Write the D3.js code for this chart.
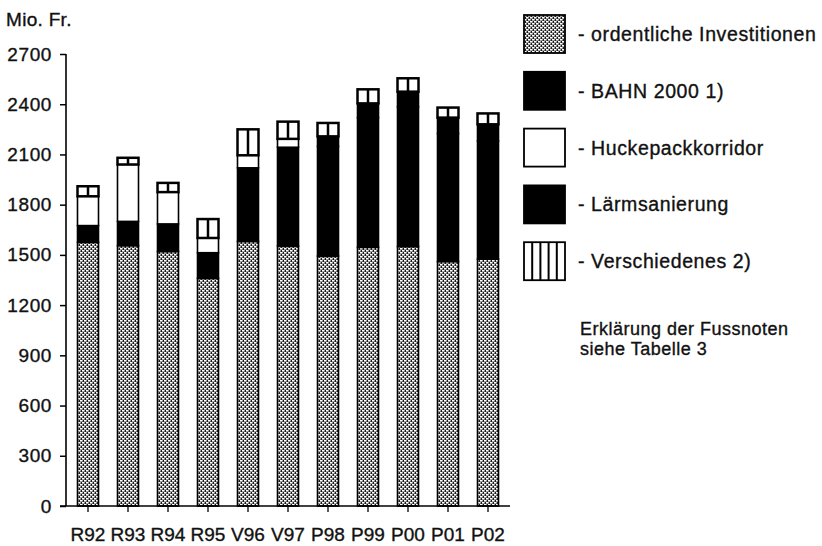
<!DOCTYPE html>
<html>
<head>
<meta charset="utf-8">
<script src="https://cdn.jsdelivr.net/npm/d3@7"></script>
<style>
  body { margin: 0; background: #fff; }
  svg { display: block; font-family: "Liberation Sans", Arial, sans-serif; }
  .lbl { fill: #111; stroke: #111; stroke-width: 0.35px; }
</style>
</head>
<body>
<div id="chart"></div>
<script>
// values (Mio. Fr.)
const categories = ["R92", "R93", "R94", "R95", "V96", "V97", "P98", "P99", "P00", "P01", "P02"];
const ordentliche = [1575, 1555, 1520, 1360, 1580, 1553, 1493, 1545, 1550, 1460, 1475];
const bahn2000    = [100, 145, 165, 153, 440, 590, 655, 775, 835, 765, 705];
const huckepack   = [175, 340, 190, 88, 75, 50, 0, 0, 0, 0, 0];
const laerm       = [0, 0, 0, 0, 0, 0, 60, 85, 90, 95, 100];
const verschiedenes = [60, 40, 55, 113, 155, 103, 80, 84, 80, 60, 65];
const yTicks = [0, 300, 600, 900, 1200, 1500, 1800, 2100, 2400, 2700];
const legendLabels = ["- ordentliche Investitionen", "- BAHN 2000 1)", "- Huckepackkorridor", "- Lärmsanierung", "- Verschiedenes 2)"];

const keys = ["ord", "bahn", "hucke", "laerm", "versch"];
const table = categories.map((c, i) => ({
  cat: c, ord: ordentliche[i], bahn: bahn2000[i], hucke: huckepack[i],
  laerm: laerm[i], versch: verschiedenes[i]
}));

const width = 822, height = 546;
const svg = d3.select("#chart").append("svg")
  .attr("width", width).attr("height", height);

// stippled pattern for the regular investments
const defs = svg.append("defs");
const pat = defs.append("pattern")
  .attr("id", "stipple")
  .attr("patternUnits", "userSpaceOnUse")
  .attr("width", 4).attr("height", 4);
pat.append("rect").attr("width", 4).attr("height", 4).attr("fill", "#1a1a1a");
pat.append("rect").attr("x", 0).attr("y", 0).attr("width", 2.6).attr("height", 1.6).attr("fill", "#fff");
pat.append("rect").attr("x", 2).attr("y", 2).attr("width", 2.6).attr("height", 1.6).attr("fill", "#fff");
pat.append("rect").attr("x", -2).attr("y", 2).attr("width", 2.6).attr("height", 1.6).attr("fill", "#fff");

const fills = { ord: "url(#stipple)", bahn: "#000", hucke: "#fff", laerm: "#000", versch: "#fff" };

const x = d3.scaleBand()
  .domain(categories)
  .range([68, 508])
  .paddingInner(0.475)
  .paddingOuter(0.2375);

const y = d3.scaleLinear()
  .domain([0, 2700])
  .range([506, 54]);

const stacked = d3.stack().keys(keys)(table);

// bars
const layers = svg.selectAll(".layer")
  .data(stacked)
  .enter().append("g")
  .attr("class", "layer");

layers.selectAll("rect")
  .data(d => d.map(v => ({ key: d.key, v: v })))
  .enter().append("rect")
  .filter(d => d.v[1] - d.v[0] > 0)
  .attr("x", d => x(d.v.data.cat))
  .attr("y", d => y(d.v[1]))
  .attr("width", x.bandwidth())
  .attr("height", d => y(d.v[0]) - y(d.v[1]))
  .attr("fill", d => fills[d.key])
  .attr("stroke", "#000")
  .attr("stroke-width", d => d.key === "versch" ? 2.5 : 1.6);

// vertical stripes of the "Verschiedenes" segments
const versLayer = stacked.find(s => s.key === "versch");
svg.selectAll(".vline")
  .data(versLayer)
  .enter().append("line")
  .attr("class", "vline")
  .attr("x1", d => x(d.data.cat) + x.bandwidth() / 2)
  .attr("x2", d => x(d.data.cat) + x.bandwidth() / 2)
  .attr("y1", d => y(d[1]))
  .attr("y2", d => y(d[0]))
  .attr("stroke", "#000")
  .attr("stroke-width", 2.5);

// y axis
const yAxis = svg.append("g")
  .attr("transform", "translate(66,0)")
  .call(d3.axisLeft(y).tickValues(yTicks).tickSize(6).tickPadding(8).tickFormat(d3.format("d")));
yAxis.select(".domain").attr("stroke", "#000").attr("stroke-width", 1.6).attr("d", `M0,${y(2700)}H0V${y(0)}`);
yAxis.selectAll(".tick line").attr("stroke", "#000").attr("stroke-width", 1.5);
yAxis.selectAll("text")
  .attr("class", "lbl")
  .attr("letter-spacing", "0.6px")
  .style("font-size", "19px")
  .style("font-family", "'Liberation Sans', Arial, sans-serif");

// x axis
const xAxis = svg.append("g")
  .attr("transform", `translate(0,${y(0)})`)
  .call(d3.axisBottom(x).tickSize(6).tickPadding(16));
xAxis.select(".domain").attr("stroke", "#000").attr("stroke-width", 1.6).attr("d", "M60,0H510");
xAxis.selectAll(".tick line").attr("stroke", "#000").attr("stroke-width", 1.3);
xAxis.selectAll("text")
  .attr("class", "lbl")
  .style("font-size", "19px")
  .style("font-family", "'Liberation Sans', Arial, sans-serif");

// unit label
svg.append("text")
  .attr("class", "lbl")
  .attr("x", 6).attr("y", 26)
  .attr("font-size", "19px")
  .attr("letter-spacing", "0.3px")
  .text("Mio. Fr.");

// legend
const legend = svg.append("g").attr("transform", "translate(524,15)");
const legendItems = legend.selectAll("g")
  .data(legendLabels)
  .enter().append("g")
  .attr("transform", (d, i) => `translate(0,${i * 56.8})`);

legendItems.append("rect")
  .attr("width", 41).attr("height", 38)
  .attr("fill", (d, i) => fills[keys[i]])
  .attr("stroke", "#000")
  .attr("stroke-width", 1.8);

legendItems.filter((d, i) => keys[i] === "versch")
  .selectAll("line")
  .data([1, 2, 3, 4])
  .enter().append("line")
  .attr("x1", d => d * 41 / 5).attr("x2", d => d * 41 / 5)
  .attr("y1", 0).attr("y2", 38)
  .attr("stroke", "#000").attr("stroke-width", 2);

legendItems.append("text")
  .attr("class", "lbl")
  .attr("x", 54).attr("y", 26)
  .attr("font-size", "19.5px")
  .attr("letter-spacing", "0.6px")
  .text(d => d);

// footnote remark
svg.append("text")
  .attr("class", "lbl")
  .attr("x", 580).attr("y", 335)
  .attr("font-size", "18px")
  .attr("letter-spacing", "0.5px")
  .text("Erklärung der Fussnoten");
svg.append("text")
  .attr("class", "lbl")
  .attr("x", 580).attr("y", 355)
  .attr("font-size", "18px")
  .attr("letter-spacing", "0.5px")
  .text("siehe Tabelle 3");
</script>
</body>
</html>
